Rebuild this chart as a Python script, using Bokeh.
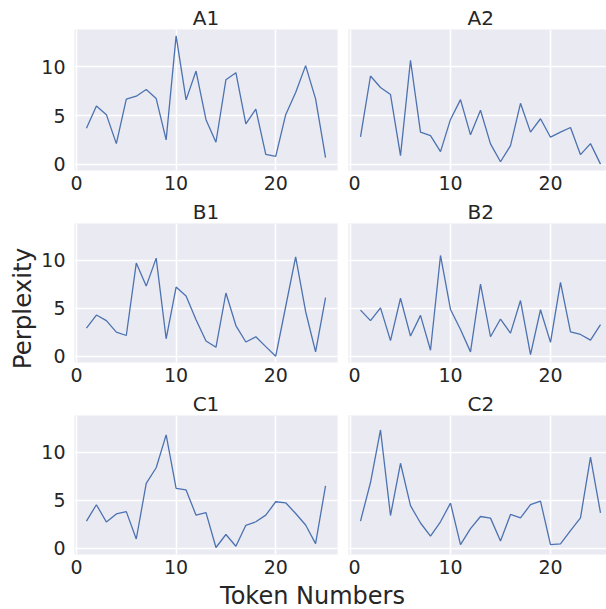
from bokeh.plotting import figure
from bokeh.layouts import column, row
from bokeh.models import Range1d, FixedTicker, Label
from bokeh.embed import file_html
from bokeh.resources import INLINE

# ---- data ----
tokens = list(range(1, 26))

A1 = [3.70, 5.99, 5.09, 2.11, 6.68, 6.99, 7.68, 6.75, 2.49, 13.20,
      6.61, 9.58, 4.57, 2.25, 8.69, 9.41, 4.15, 5.67, 1.00, 0.80,
      5.09, 7.37, 10.14, 6.71, 0.66]
A2 = [2.80, 9.07, 7.89, 7.16, 0.87, 10.69, 3.29, 2.94, 1.28, 4.60,
      6.64, 3.01, 5.54, 2.08, 0.24, 1.90, 6.26, 3.29, 4.67, 2.77,
      3.29, 3.77, 0.97, 2.11, 0.00]
B1 = [2.92, 4.30, 3.71, 2.51, 2.16, 9.73, 7.32, 10.24, 1.82, 7.22,
      6.29, 3.81, 1.58, 0.93, 6.60, 3.20, 1.48, 2.03, 1.00, 0.00,
      5.19, 10.38, 4.67, 0.45, 6.12]
B2 = [4.81, 3.71, 5.05, 1.62, 6.05, 2.10, 4.26, 0.62, 10.52, 4.88,
      2.78, 0.45, 7.53, 2.03, 3.88, 2.41, 5.81, 0.17, 4.85, 1.44,
      7.70, 2.54, 2.27, 1.68, 3.30]
C1 = [2.83, 4.54, 2.73, 3.58, 3.82, 0.96, 6.76, 8.40, 11.84, 6.25,
      6.08, 3.45, 3.72, 0.07, 1.43, 0.20, 2.39, 2.76, 3.45, 4.85,
      4.74, 3.62, 2.42, 0.48, 6.52]
C2 = [2.83, 6.86, 12.35, 3.41, 8.87, 4.44, 2.63, 1.26, 2.76, 4.71,
      0.38, 2.05, 3.31, 3.14, 0.75, 3.52, 3.17, 4.54, 4.91, 0.38,
      0.44, 1.84, 3.17, 9.52, 3.69]

panel_names = ["A1", "A2", "B1", "B2", "C1", "C2"]
panel_values = [A1, A2, B1, B2, C1, C2]
x_ticks = [0, 10, 20]
y_ticks = [0, 5, 10]
x_label = "Token Numbers"
y_label = "Perplexity"

# ---- styling ----
FONT = "DejaVu Sans"
TEXT = "#262626"
BG = "#EAEAF2"
LINE = "#4C72B0"
TICK_FS = "19px"
TITLE_FS = "20px"
YLABEL_FS = "24.5px"
XLABEL_FS = "24px"

all_vals = [v for vals in panel_values for v in vals]
ymin, ymax = min(all_vals), max(all_vals)
ypad = 0.05 * (ymax - ymin)
xmin, xmax = min(tokens), max(tokens)
xpad = 0.05 * (xmax - xmin)

LEFT_W = 38
FRAME_H = 141
col_cfg = [dict(width=348 - LEFT_W, left=73 - LEFT_W, right=11),
           dict(width=258, left=0, right=0)]
row_cfg = [dict(top=29, bottom=27), dict(top=24, bottom=27), dict(top=24, bottom=27)]
FULL_FW = 264


def make_panel(name, vals, r, c):
    cc, rc = col_cfg[c], row_cfg[r]
    fw = cc["width"] - cc["left"] - cc["right"]
    x0 = xmin - xpad
    x1 = x0 + (xmax + xpad - x0) * fw / FULL_FW
    p = figure(width=cc["width"], height=rc["top"] + FRAME_H + rc["bottom"],
               x_range=Range1d(x0, x1), y_range=Range1d(ymin - ypad, ymax + ypad),
               toolbar_location=None, output_backend="svg",
               min_border_left=cc["left"], min_border_right=cc["right"],
               min_border_top=rc["top"], min_border_bottom=rc["bottom"])
    p.background_fill_color = BG
    p.border_fill_color = "white"
    p.outline_line_color = None

    p.title.text = name
    p.title.text_font = FONT
    p.title.text_font_size = TITLE_FS
    p.title.text_font_style = "normal"
    p.title.text_color = TEXT
    p.title.standoff = 0
    if c == 0:
        p.title.align = "center"
    else:
        p.title.align = "left"
        p.title.offset = 119

    p.line(tokens, vals, line_color=LINE, line_width=1.3)

    p.xaxis.ticker = FixedTicker(ticks=x_ticks)
    p.yaxis.ticker = FixedTicker(ticks=y_ticks)
    p.xgrid.ticker = FixedTicker(ticks=x_ticks)
    p.ygrid.ticker = FixedTicker(ticks=y_ticks)
    for g in (p.xgrid, p.ygrid):
        g.grid_line_color = "white"
        g.grid_line_width = 1.6
    for ax in (p.xaxis, p.yaxis):
        ax.axis_line_color = None
        ax.major_tick_line_color = None
        ax.minor_tick_line_color = None
        ax.major_tick_out = 0
        ax.major_tick_in = 0
        ax.minor_tick_out = 0
        ax.minor_tick_in = 0
        ax.axis_label_standoff = 0
        ax.major_label_text_font = FONT
        ax.major_label_text_font_size = TICK_FS
        ax.major_label_text_color = TEXT
    p.xaxis.major_label_standoff = 5
    p.yaxis.major_label_standoff = 9
    if c == 1:
        p.yaxis.visible = False
    return p


panels = []
for i, (name, vals) in enumerate(zip(panel_names, panel_values)):
    panels.append(make_panel(name, vals, i // 2, i % 2))

grid_h = sum(rc["top"] + FRAME_H + rc["bottom"] for rc in row_cfg)


def blank(width, height):
    f = figure(width=width, height=height, toolbar_location=None, output_backend="svg",
               x_axis_location=None, y_axis_location=None, title=None,
               min_border=0, x_range=Range1d(0, 1), y_range=Range1d(0, 1))
    f.outline_line_color = None
    f.xgrid.visible = False
    f.ygrid.visible = False
    f.background_fill_color = "white"
    f.border_fill_color = "white"
    return f


left_strip = blank(LEFT_W, grid_h)
left_strip.add_layout(Label(x=22, y=grid_h - 308, x_units="screen", y_units="screen",
                            text=y_label, angle=90, angle_units="deg",
                            text_align="center", text_baseline="middle",
                            text_font=FONT, text_font_size=YLABEL_FS, text_color=TEXT))

bottom_strip = blank(606, 609 - grid_h)
bottom_strip.add_layout(Label(x=312, y=0, x_units="screen", y_units="screen",
                              text=x_label, text_align="center", text_baseline="bottom",
                              text_font=FONT, text_font_size=XLABEL_FS, text_color=TEXT))

grid = column(row(panels[0], panels[1]), row(panels[2], panels[3]),
              row(panels[4], panels[5]))
layout = column(row(left_strip, grid), bottom_strip)

open("out.html", "w").write(file_html(layout, INLINE))
